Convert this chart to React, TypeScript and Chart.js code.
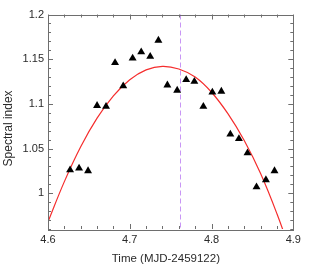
import React, { useEffect, useRef } from 'react';
import { Chart, registerables } from 'chart.js';

Chart.register(...registerables);

// Observed data (triangles)
const timeValues = [4.627, 4.638, 4.649, 4.660, 4.671, 4.682, 4.692, 4.7035, 4.714, 4.725, 4.735, 4.746,
  4.758, 4.769, 4.779, 4.790, 4.801, 4.812, 4.823, 4.8335, 4.844, 4.855, 4.8665, 4.877];
const indexValues = [1.026, 1.028, 1.025, 1.098, 1.097, 1.146, 1.120, 1.151, 1.158, 1.153, 1.171, 1.121,
  1.115, 1.127, 1.125, 1.097, 1.113, 1.114, 1.066, 1.061, 1.045, 1.007, 1.015, 1.025];

// Fitted curve (red)
const fitTimes = [4.60, 4.62, 4.64, 4.66, 4.68, 4.70, 4.72, 4.74, 4.76, 4.78, 4.80, 4.82, 4.84, 4.86, 4.88, 4.90];
const fitValues = [0.968, 1.013, 1.052, 1.084, 1.109, 1.127, 1.138, 1.142, 1.139, 1.130, 1.113, 1.089, 1.059, 1.022, 0.977, 0.926];

// Vertical dashed marker
const markerTime = 4.761;

const xTickValues = [4.6, 4.7, 4.8, 4.9];
const yTickValues = [1, 1.05, 1.1, 1.15, 1.2];

const X_MIN = 4.6, X_MAX = 4.9, Y_MIN = 0.96, Y_MAX = 1.2;
const FONT = '"Liberation Sans", Arial, Helvetica, sans-serif';
const FRAME = '#6e6e6e';

const framePlugin = {
  id: 'frameTicks',
  beforeDatasetsDraw(chart: any) {
    const { ctx, chartArea, scales } = chart;
    const x = scales.x.getPixelForValue(markerTime);
    ctx.save();
    ctx.strokeStyle = '#c896f5';
    ctx.lineWidth = 1;
    ctx.setLineDash([5, 3]);
    ctx.beginPath();
    ctx.moveTo(Math.round(x) + 0.5, chartArea.top);
    ctx.lineTo(Math.round(x) + 0.5, chartArea.bottom);
    ctx.stroke();
    ctx.restore();
  },
  afterDraw(chart: any) {
    const { ctx, chartArea, scales } = chart;
    const { left, right, top, bottom } = chartArea;
    ctx.save();
    ctx.strokeStyle = FRAME;
    ctx.lineWidth = 1;
    ctx.strokeRect(Math.round(left) + 0.5, Math.round(top) + 0.5, Math.round(right - left), Math.round(bottom - top));
    ctx.beginPath();
    for (let i = 0; i <= 15; i++) {
      const v = X_MIN + i * 0.02;
      const px = Math.round(scales.x.getPixelForValue(v)) + 0.5;
      const len = i % 5 === 0 ? 5 : 3;
      ctx.moveTo(px, bottom);
      ctx.lineTo(px, bottom - len);
      ctx.moveTo(px, top);
      ctx.lineTo(px, top + len);
    }
    for (let i = 0; i <= 24; i++) {
      const v = Y_MIN + i * 0.01;
      const py = Math.round(scales.y.getPixelForValue(v)) + 0.5;
      const len = (i + 1) % 5 === 0 ? 5 : 3;
      ctx.moveTo(left, py);
      ctx.lineTo(left + len, py);
      ctx.moveTo(right, py);
      ctx.lineTo(right - len, py);
    }
    ctx.stroke();
    ctx.restore();
  },
};

export default function App() {
  const ref = useRef<HTMLCanvasElement | null>(null);

  useEffect(() => {
    if (!ref.current) return;
    const chart = new Chart(ref.current, {
      type: 'scatter',
      data: {
        datasets: [
          {
            label: 'Fit',
            data: fitTimes.map((t, i) => ({ x: t, y: fitValues[i] })),
            showLine: true,
            borderColor: 'rgb(245,45,45)',
            borderWidth: 1.2,
            pointRadius: 0,
            tension: 0.4,
            fill: false,
            order: 2,
          },
          {
            label: 'Spectral index',
            data: timeValues.map((t, i) => ({ x: t, y: indexValues[i] })),
            pointStyle: 'triangle',
            pointRadius: 4.6,
            backgroundColor: '#000',
            borderColor: '#000',
            borderWidth: 0,
            showLine: false,
            order: 1,
          },
        ],
      },
      options: {
        responsive: false,
        animation: false,
        events: [],
        layout: { padding: { top: 14.5, right: 25.7, left: 0, bottom: 0 } },
        plugins: { legend: { display: false }, tooltip: { enabled: false } },
        scales: {
          x: {
            type: 'linear',
            min: X_MIN,
            max: X_MAX,
            grid: { display: false, drawTicks: false },
            border: { display: false },
            afterBuildTicks: (s: any) => { s.ticks = xTickValues.map((v) => ({ value: v })); },
            afterFit: (s: any) => { s.height = 37; },
            ticks: {
              padding: 4,
              maxRotation: 0,
              color: '#2a2a2a',
              font: { family: FONT, size: 11 },
              callback: (v: any) => String(Number(Number(v).toFixed(2))),
            },
            title: {
              display: true,
              text: 'Time (MJD-2459122)   ',
              color: '#2a2a2a',
              font: { family: FONT, size: 11.5 },
              padding: { top: 0, bottom: 0 },
            },
          },
          y: {
            type: 'linear',
            min: Y_MIN,
            max: Y_MAX,
            grid: { display: false, drawTicks: false },
            border: { display: false },
            afterBuildTicks: (s: any) => { s.ticks = yTickValues.map((v) => ({ value: v })); },
            afterFit: (s: any) => { s.width = 48; },
            ticks: {
              padding: 4,
              color: '#2a2a2a',
              font: { family: FONT, size: 11 },
              callback: (v: any) => String(Number(Number(v).toFixed(2))),
            },
            title: {
              display: true,
              text: 'Spectral index    ',
              color: '#2a2a2a',
              font: { family: FONT, size: 12 },
              padding: { top: 1, bottom: 0 },
            },
          },
        },
      },
      plugins: [framePlugin],
    } as any);
    return () => chart.destroy();
  }, []);

  return (
    <div style={{ position: 'fixed', left: 0, top: 0, width: 319, height: 266, background: '#fff' }}>
      <canvas ref={ref} width={319} height={266} style={{ width: 319, height: 266, display: 'block' }} />
    </div>
  );
}
